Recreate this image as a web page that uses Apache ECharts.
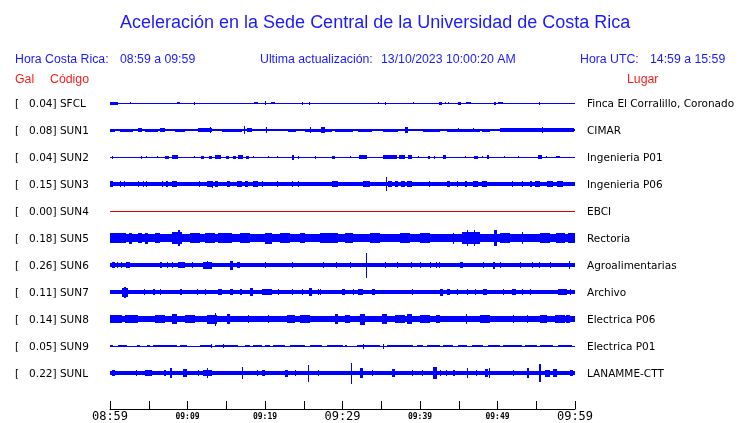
<!DOCTYPE html>
<html><head><meta charset="utf-8">
<script src="https://cdn.jsdelivr.net/npm/echarts@6/dist/echarts.min.js"></script>
<style>html,body{margin:0;padding:0;background:#fff}#c{width:740px;height:423px}</style>
</head><body><div id="c"></div>
<script>
// ---- DATA ----
const titleText = 'Aceleración en la Sede Central de la Universidad de Costa Rica';
const horaCR = '08:59 a 09:59';
const horaUTC = '14:59 a 15:59';
const updated = '13/10/2023 10:00:20 AM';
const codes = ['SFCL','SUN1','SUN2','SUN3','SUN4','SUN5','SUN6','SUN7','SUN8','SUN9','SUNL'];
const gal = [0.04,0.08,0.04,0.15,0.00,0.18,0.26,0.11,0.14,0.05,0.22];
const places = ['Finca El Corralillo, Coronado','CIMAR','Ingenieria P01','Ingenieria P06','EBCI','Rectoria','Agroalimentarias','Archivo','Electrica P06','Electrica P01','LANAMME-CTT'];
const timeTicks = [0,10,20,30,40,50,60];            // minutes from start
const timeLabels = ['08:59','09:09','09:19','09:29','09:39','09:49','09:59'];
const majorLabels = ['08:59','09:29','09:59'];
// Envelopes: [startMinute, endMinute, halfAmplitude] (relative amplitude units)
const sfclEnv = [[0,60,0.5],[0,1.0,1.5],[2.6,2.7,1.2],[8.7,9.0,1.0],[10.8,10.9,1.5],[18.6,19.1,1.3],[20.0,20.1,2.2],[20.8,21.3,1.3],[24.8,24.9,1.5],[25.7,25.8,1.5],[34.6,34.7,1.0],[35.5,35.6,1.5],[39.1,39.2,1.2],[42.4,42.8,1.5],[43.2,43.3,1.3],[43.6,43.7,1.3],[44.9,45.3,1.5],[45.9,46.6,1.4],[49.5,49.8,1.5],[50.1,50.7,1.4],[55.3,55.4,1.5]];
const sun1Env = [[0,60,0.8],[0,0.6,1.5],[1.3,3.0,1.5],[3.6,4.1,2.2],[4.5,6.2,1.5],[6.5,7.1,2.2],[8.4,9.7,1.5],[11.3,13.2,1.6],[12.9,13.0,2.6],[14.5,17.0,1.5],[17.3,17.4,4.3],[17.7,18.3,2.2],[20.1,20.2,2.8],[23.0,24.0,1.5],[25.2,28.6,1.5],[25.8,25.9,2.6],[27.2,27.8,2.6],[29.0,31.4,1.5],[32.0,33.8,1.5],[35.2,37.2,1.5],[38.1,38.5,2.6],[40.4,42.6,1.5],[43.5,47.7,1.5],[44.9,45.0,2.3],[46.8,46.9,2.3],[48.0,49.0,1.5],[50.3,59.9,1.6],[55.8,55.9,2.8]];
const sun2Env = [[0,60,0.5],[0.2,0.3,1.5],[4.0,4.1,1.5],[4.6,4.7,1.3],[6.0,6.1,1.3],[7.1,7.6,1.5],[8.0,8.8,1.8],[10.8,10.9,1.3],[11.7,12.1,1.5],[12.8,13.2,1.5],[13.5,14.3,1.8],[15.0,15.4,1.5],[15.9,16.3,1.5],[16.5,17.2,1.6],[17.5,17.9,1.5],[18.4,18.5,1.3],[20.4,20.5,1.2],[21.5,21.6,1.2],[23.5,23.7,2.5],[24.2,24.3,1.5],[26.4,26.5,1.5],[28.6,29.0,1.5],[31.0,31.1,1.3],[32.1,33.2,1.6],[35.2,37.0,1.8],[37.3,38.1,1.6],[38.5,39.0,1.6],[39.7,39.8,1.3],[41.0,41.3,1.5],[41.8,41.9,1.5],[43.0,43.4,1.6],[45.8,45.9,1.3],[47.0,47.5,1.5],[48.0,48.1,1.3],[48.6,48.9,1.6],[50.8,50.9,1.2],[52.6,52.7,1.0],[55.2,55.7,1.6],[56.2,56.3,1.3],[57.5,58.1,1.3]];
const sun3Env = [[0,60,1.8],[0,0.4,2.8],[1.3,1.4,3],[1.8,1.9,3],[3.6,3.7,3],[4.2,4.3,3],[4.7,4.8,3],[6.7,6.8,3],[7.2,7.5,3],[8.0,8.6,3.2],[11.5,11.6,2.8],[12.5,13.2,3],[13.1,13.2,3.5],[13.5,13.9,2.8],[15.1,15.5,3],[16.4,17.0,3],[17.4,17.8,3],[18.5,19.1,3],[19.6,19.7,2.8],[21.5,21.6,2.8],[23.5,23.6,3.2],[24.2,24.3,2.8],[28.6,29.4,3],[32.6,33.5,3],[35.6,35.7,6.7],[35.9,36.4,3.2],[36.8,37.2,3],[37.6,38.0,3],[38.3,39.0,3.2],[41.1,41.2,3],[43.5,43.9,2.8],[44.8,44.9,2.8],[45.8,46.1,3],[46.8,47.5,3],[48.0,48.7,3],[51.9,52.0,2.8],[53.2,53.3,2.8],[54.2,54.5,3],[54.9,55.5,3],[56.4,57.2,3],[57.7,58.5,3]];
const sun4Env = [[0,60,0]];
const sun5Env = [[0,60,4],[0,2.0,4.6],[2.5,2.8,5.5],[3.6,4.1,5],[4.5,4.9,5.5],[5.8,6.5,5],[8.0,9.3,6],[8.8,9.0,8.3],[10.3,11.6,5],[12.3,13.5,5],[13.9,15.7,5.3],[16.8,18.1,5],[20.0,20.9,5.5],[21.9,23.2,5],[24.5,25.2,5],[27.1,29.4,5.3],[30.3,31.4,5],[33.5,34.8,5],[37.4,38.7,5.3],[40.0,41.3,5],[44.2,44.3,5.5],[45.4,47.7,6],[46.0,46.1,8.3],[47.0,47.1,8.3],[49.6,49.9,8.3],[50.3,51.6,5],[53.1,53.3,6],[55.5,56.8,5],[57.5,58.7,5.3],[59.1,60,5]];
const sun6Env = [[0,60,1.7],[0.3,0.6,3],[0.9,1.0,3],[1.4,1.5,3],[2.0,2.6,3.2],[6.4,6.7,2.8],[7.3,7.4,2.8],[8.0,8.1,2.8],[8.8,9.7,3],[10.6,10.7,2.8],[12.0,13.2,3.5],[12.5,12.6,4.2],[15.5,15.9,4.5],[16.4,16.8,3],[20.0,20.1,2.8],[23.5,23.6,2.8],[27.5,27.6,2.8],[29.2,29.3,2.8],[31.0,31.1,2.8],[33.0,33.1,12.5],[35.5,35.6,3],[37.0,37.1,2.8],[38.9,39.0,2.8],[40.0,40.1,3],[41.3,41.4,2.8],[42.0,42.1,2.8],[42.5,42.6,2.8],[45.2,45.6,3.3],[48.1,48.2,2.8],[49.4,49.7,3.5],[50.3,50.4,2.8],[52.9,53.0,2.8],[54.5,54.6,2.8],[55.4,55.5,2.8],[56.8,56.9,2.8],[59.2,59.3,4.2]];
const sun7Env = [[0,60,1.8],[1.5,2.3,4.5],[1.8,2.0,5.5],[4.4,4.5,3],[5.5,5.8,3],[6.4,6.5,2.8],[9.0,9.3,3],[11.2,11.3,2.8],[12.2,12.3,2.8],[13.9,14.5,3.3],[15.5,15.9,3.3],[16.8,17.0,3],[18.1,18.5,4],[19.6,20.9,2.8],[21.7,21.8,2.8],[23.5,23.6,2.8],[24.8,24.9,2.8],[25.7,26.1,4],[26.8,26.9,2.8],[27.1,27.2,2.8],[29.9,30.3,3],[31.4,31.5,2.8],[32.0,32.6,3],[33.8,34.2,3],[39.0,39.1,3],[42.6,43.0,3.5],[43.5,43.9,3],[44.8,44.9,2.8],[46.1,46.2,2.8],[47.1,47.2,2.8],[48.1,48.6,3],[50.7,50.8,2.8],[51.9,52.4,3.2],[53.2,53.3,2.8],[54.2,54.3,2.8],[57.8,59.0,3.2],[59.4,59.5,3]];
const sun8Env = [[0,60,3],[0,1.5,3.8],[1.9,3.6,3.6],[5.8,7.1,3.8],[8.0,8.6,5],[9.7,11.0,3.6],[12.5,13.8,4.5],[13.5,13.6,6.5],[15.1,15.5,5],[17.8,17.9,4],[20.4,20.5,4],[22.8,23.9,4.2],[24.5,25.8,3.6],[29.0,29.4,5],[30.3,31.0,3.8],[32.3,32.9,5.5],[35.1,35.7,5],[36.8,38.1,3.8],[38.3,39.0,5],[40.0,41.3,3.6],[42.1,42.6,3.8],[45.9,46.0,4.8],[47.7,49.0,3.6],[52.0,52.1,4.3],[53.8,53.9,4],[55.5,56.4,4.2],[57.4,58.7,3.8],[58.8,59.4,4.3]];
const sun9Env = [[0,60,0.5],[0,0.4,1.3],[1.0,2.2,1.3],[3.5,3.9,1.2],[4.8,5.2,1.2],[5.5,8.6,1.4],[9.0,9.9,1.3],[11.6,13.2,1.3],[13.0,13.1,2.2],[13.5,16.5,1.4],[14.6,14.7,2.2],[17.4,18.1,1.2],[18.5,19.6,1.3],[20.0,20.6,1.2],[21.0,22.6,1.3],[23.2,25.2,1.3],[25.8,27.4,1.3],[28.0,30.0,1.4],[30.3,30.6,1.1],[31.9,34.8,1.4],[32.7,32.8,2.5],[35.2,35.3,2.5],[35.7,39.1,1.3],[39.6,40.4,1.2],[40.9,42.6,1.3],[43.0,44.3,1.3],[44.9,46.1,1.2],[46.7,48.1,1.3],[48.8,50.3,1.3],[50.7,53.2,1.3],[53.5,55.1,1.3],[55.5,57.2,1.3],[57.8,59.6,1.2]];
const sunlEnv = [[0,60,1.7],[0.2,0.6,3],[3.3,3.4,3],[4.5,5.4,3],[7.0,7.2,3],[7.7,8.0,5],[9.4,9.9,4],[11.3,11.4,2.8],[12.0,13.2,3.3],[12.5,12.6,5],[17.0,17.2,6],[19.0,19.1,3],[19.6,20.0,3],[22.6,23.0,3.5],[23.9,24.0,3],[25.5,25.7,8.5],[26.8,26.9,2.8],[31.1,31.2,10.5],[32.3,32.6,5],[33.8,33.9,2.8],[36.4,36.8,4],[39.0,39.1,3],[40.3,40.4,3],[41.7,42.2,6],[42.6,42.7,3],[43.3,43.4,3],[44.3,44.5,3],[46.1,46.2,5],[47.2,47.3,3],[48.4,48.8,4],[48.9,49.0,5],[52.0,52.1,3],[53.8,54.0,5],[55.4,55.6,9],[56.1,56.8,3.5],[57.2,57.7,4],[59.4,59.7,3]];
const envelopes = [sfclEnv,sun1Env,sun2Env,sun3Env,sun4Env,sun5Env,sun6Env,sun7Env,sun8Env,sun9Env,sunlEnv];
const traceColors = ['#0000ff','#0000ff','#0000ff','#0000ff','#e00000','#0000ff','#0000ff','#0000ff','#0000ff','#0000ff','#0000ff'];

// ---- CHART ----
const chart = echarts.init(document.getElementById('c'), null, {renderer:'canvas'});
const ROW0 = 89.5, ROWH = 27, LEFT = 110, WIDTH = 465;
const grids = [], xAxes = [], yAxes = [], series = [], graphic = [];
envelopes.forEach((env, i) => {
  grids.push({left: LEFT, width: WIDTH, top: ROW0 + ROWH * i, height: ROWH});
  xAxes.push({type:'value', gridIndex:i, min:0, max:60, show:false});
  yAxes.push({type:'value', gridIndex:i, min:-13.5, max:13.5, show:false});
  const col = traceColors[i];
  series.push({
    type:'custom', xAxisIndex:i, yAxisIndex:i, silent:true, animation:false,
    encode:{x:[0,1], y:2},
    data: env,
    renderItem: (params, api) => {
      const t0 = api.value(0), t1 = api.value(1), hw = api.value(2);
      const a = api.coord([t0, hw]), b = api.coord([t1, -hw]);
      const x0 = Math.round(a[0]);
      const x1 = Math.max(x0 + 1, Math.round(b[0]));
      const y0 = Math.round(a[1]);
      const y1 = Math.max(y0 + 1, Math.round(b[1]));
      return {type:'rect', shape:{x:x0, y:y0, width:x1 - x0, height:y1 - y0}, style:{fill:col}};
    }
  });
  const cy = ROW0 + ROWH * i + ROWH / 2 + 1;
  graphic.push({type:'text', x:15, y:cy, style:{text:'[   ' + gal[i].toFixed(2) + '] ' + codes[i], font:'10.5px "DejaVu Sans"', fill:'#000', textVerticalAlign:'middle'}});
  graphic.push({type:'text', x:587, y:cy, style:{text:places[i], font:'10.5px "DejaVu Sans"', fill:'#000', textVerticalAlign:'middle'}});
});
// time axis
const ai = envelopes.length;
grids.push({left: LEFT, width: WIDTH, top: 400, height: 9});
xAxes.push({type:'value', gridIndex:ai, min:0, max:60, interval:5,
  axisLine:{show:true, lineStyle:{color:'#000', width:1}},
  axisTick:{show:true, inside:true, length:8, lineStyle:{color:'#000'}},
  splitLine:{show:false},
  axisLabel:{showMinLabel:true, showMaxLabel:true, margin:1,
    formatter: v => { const k = timeTicks.indexOf(v); if (k < 0) return ''; const s = timeLabels[k]; return majorLabels.includes(s) ? '{b|' + s + '}' : '{s|' + s + '}'; },
    rich:{ b:{fontFamily:'DejaVu Sans Mono', fontSize:12, color:'#000', lineHeight:14},
           s:{fontFamily:'DejaVu Sans Mono', fontSize:8, fontWeight:'bold', color:'#000', lineHeight:14} } }
});
yAxes.push({type:'value', gridIndex:ai, show:false});

const blue = '#1a1aff', red = '#ff1a1a';
const hf = '12.3px "Liberation Sans"';
graphic.push({type:'text', x:120, y:23, style:{text:titleText, font:'18px "Liberation Sans"', fill:blue, textVerticalAlign:'middle'}});
graphic.push({type:'text', x:15, y:60, style:{text:'Hora Costa Rica:', font:hf, fill:blue, textVerticalAlign:'middle'}});
graphic.push({type:'text', x:120, y:60, style:{text:horaCR, font:hf, fill:blue, textVerticalAlign:'middle'}});
graphic.push({type:'text', x:260, y:60, style:{text:'Ultima actualización:', font:hf, fill:blue, textVerticalAlign:'middle'}});
graphic.push({type:'text', x:381, y:60, style:{text:updated, font:hf, fill:blue, textVerticalAlign:'middle'}});
graphic.push({type:'text', x:580, y:60, style:{text:'Hora UTC:', font:hf, fill:blue, textVerticalAlign:'middle'}});
graphic.push({type:'text', x:650, y:60, style:{text:horaUTC, font:hf, fill:blue, textVerticalAlign:'middle'}});
graphic.push({type:'text', x:15, y:80, style:{text:'Gal', font:hf, fill:red, textVerticalAlign:'middle'}});
graphic.push({type:'text', x:50, y:80, style:{text:'Código', font:hf, fill:red, textVerticalAlign:'middle'}});
graphic.push({type:'text', x:627, y:80, style:{text:'Lugar', font:hf, fill:red, textVerticalAlign:'middle'}});

chart.setOption({animation:false, backgroundColor:'#fff', grid:grids, xAxis:xAxes, yAxis:yAxes, series:series, graphic:graphic});
</script></body></html>
